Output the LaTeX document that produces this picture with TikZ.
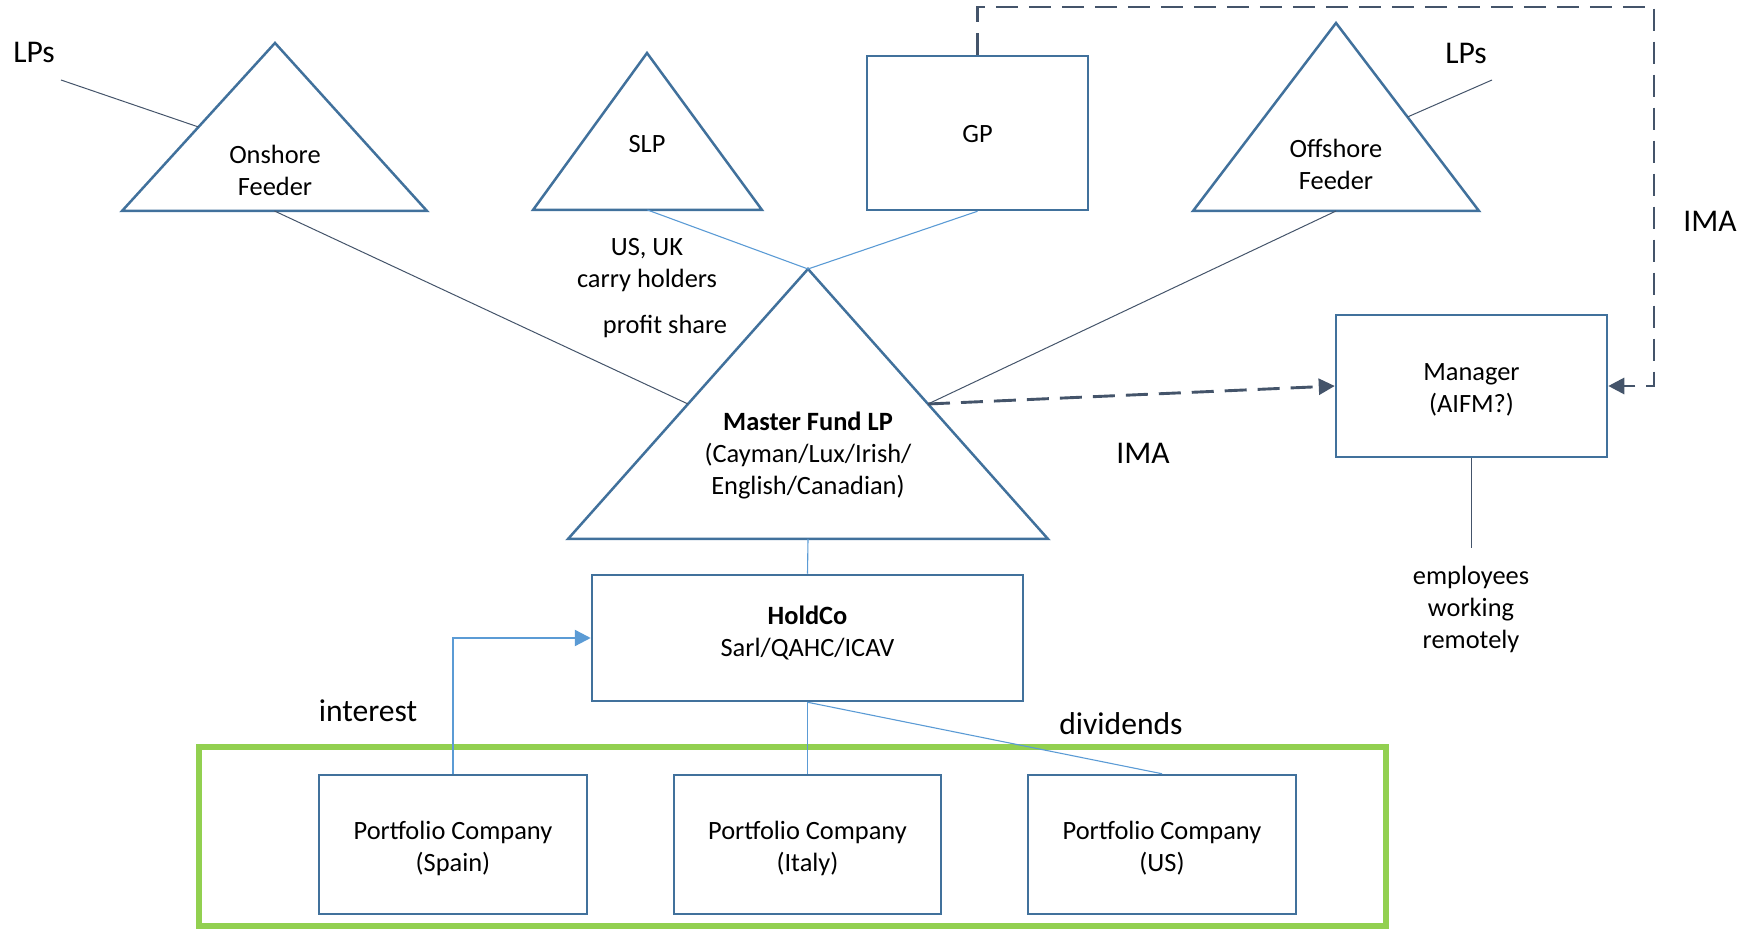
\documentclass[tikz,border=0pt]{standalone}
\usepackage{fontspec}
\setmainfont{Carlito}
\usetikzlibrary{arrows.meta,calc}
\definecolor{entity}{HTML}{41719C}
\definecolor{slate}{HTML}{44546A}
\definecolor{flow}{HTML}{5B9BD5}
\definecolor{grp}{HTML}{92D050}
\begin{document}
\begin{tikzpicture}[x=0.5pt,y=-0.5pt,
  entity/.style={draw=entity,line width=1.25pt},
  entitybox/.style={entity,inner sep=0pt},
  body/.style={inner sep=0pt,align=center,font=\smalltxt},
  tag/.style={inner sep=0pt,align=center,font=\bigtxt},
  thinlink/.style={draw=slate,line width=0.5pt},
  flowlink/.style={draw=flow,line width=0.55pt},
  imalink/.style={draw=slate,line width=1.45pt,dash pattern=on 11pt off 5.5pt,
    -{Triangle[length=8pt,width=8pt]}},
  fence/.style={draw=grp,line width=2.6pt}]
\newcommand{\smalltxt}{\fontsize{13.2}{16}\selectfont}
\newcommand{\bigtxt}{\fontsize{15.8}{19}\selectfont}
\useasboundingbox (0,0) rectangle (1741,929);

% group frame around the portfolio companies
\draw[fence] (199,747) rectangle (1386,926);

% triangles: apex, left base corner, right base corner
\coordinate (onA) at (275,43);   \coordinate (onL) at (122,211);  \coordinate (onR) at (427,211);
\coordinate (slA) at (647,53);   \coordinate (slL) at (533,210);  \coordinate (slR) at (762,210);
\coordinate (ofA) at (1336,23);  \coordinate (ofL) at (1193,211); \coordinate (ofR) at (1479,211);
\coordinate (mfA) at (808,269);  \coordinate (mfL) at (568,539);  \coordinate (mfR) at (1048,539);
\draw[entity,line join=miter] (onA) -- (onL) -- (onR) -- cycle;
\draw[entity,line join=miter] (slA) -- (slL) -- (slR) -- cycle;
\draw[entity,line join=miter] (ofA) -- (ofL) -- (ofR) -- cycle;
\draw[entity,line join=miter] (mfA) -- (mfL) -- (mfR) -- cycle;
\coordinate (onB) at ($(onL)!0.5!(onR)$);
\coordinate (slB) at ($(slL)!0.5!(slR)$);
\coordinate (ofB) at ($(ofL)!0.5!(ofR)$);
\coordinate (mfB) at ($(mfL)!0.5!(mfR)$);
\coordinate (onSide) at ($(onA)!0.5!(onL)$);
\coordinate (ofSide) at ($(ofA)!0.5!(ofR)$);
\coordinate (mfWest) at ($(mfA)!0.5!(mfL)$);
\coordinate (mfEast) at ($(mfA)!0.5!(mfR)$);

\node[body] (onT) at (275,170) {Onshore\\Feeder};
\node[body] (slT) at (647,144) {SLP};
\node[body] (ofT) at (1336,164) {Offshore\\Feeder};
\node[body] (mfT) at (808,456) {\textbf{Master Fund LP}\\(Cayman/Lux/Irish/\\English/Canadian)};

% rectangular entities
\node[entitybox,minimum width=110.5pt,minimum height=77pt] (gp) at (977.5,133) {};
\node[entitybox,minimum width=135.5pt,minimum height=71pt] (mgr) at (1471.5,386) {};
\node[entitybox,minimum width=215.5pt,minimum height=63pt] (hold) at (807.5,638) {};
\node[entitybox,minimum width=134pt,minimum height=69.5pt] (spain) at (453,844.5) {};
\node[entitybox,minimum width=133.5pt,minimum height=69.5pt] (italy) at (807.5,844.5) {};
\node[entitybox,minimum width=134pt,minimum height=69.5pt] (us) at (1162,844.5) {};
\node[body] (gpT) at (977.5,134) {GP};
\node[body] (mgrT) at (1471.5,390) {Manager\\(AIFM?)};
\node[body] (holdT) at (807.5,633) {\textbf{HoldCo}\\Sarl/QAHC/ICAV};
\node[body] (spainT) at (453,848) {Portfolio Company\\(Spain)};
\node[body] (italyT) at (807.5,848) {Portfolio Company\\(Italy)};
\node[body] (usT) at (1162,848) {Portfolio Company\\(US)};

% investors
\node[tag] (lpL) at (34,52) {LPs};
\node[tag] (lpR) at (1466,53) {LPs};
\coordinate (lpLend) at (61,80);
\coordinate (lpRend) at (1492,80);
\draw[thinlink] (lpLend) -- (onSide);
\draw[thinlink] (lpRend) -- (ofSide);

% feeders into the master fund
\draw[thinlink] (onB) -- (mfWest);
\draw[thinlink] (ofB) -- (mfEast);
\draw[flowlink] (slB) -- (mfA);
\draw[flowlink] (gp.south) -- (mfA);
\node[body] (carry) at (647,265) {US, UK\\carry holders};
\node[body] (profit) at (665,326) {profit share};

% investment management agreements
\coordinate (gpUp) at (977.5,7);
\coordinate (imaCorner) at (1654,7);
\draw[imalink] (gp.north) -- (gpUp) -- (imaCorner) |- (mgr.east);
\draw[imalink] (mfEast) -- (mgr.west);
\node[tag] (imaR) at (1710,221) {IMA};
\node[tag] (imaL) at (1143,453) {IMA};

% manager staff
\coordinate (staff) at (1471.5,548);
\draw[thinlink] (mgr.south) -- (staff);
\node[body] (staffT) at (1471,609) {employees\\working\\remotely};

% holding structure
\draw[flowlink] (mfB) -- (hold.north);
\draw[flowlink] (hold.south) -- (italy.north);
\draw[flowlink] (hold.south) -- (us.north);
\draw[draw=flow,line width=1.2pt,-{Triangle[length=8pt,width=8pt]}]
  (spain.north) |- (hold.west);
\node[tag] (interest) at (368,711) {interest};
\node[tag] (divs) at (1121,724) {dividends};
\end{tikzpicture}
\end{document}
